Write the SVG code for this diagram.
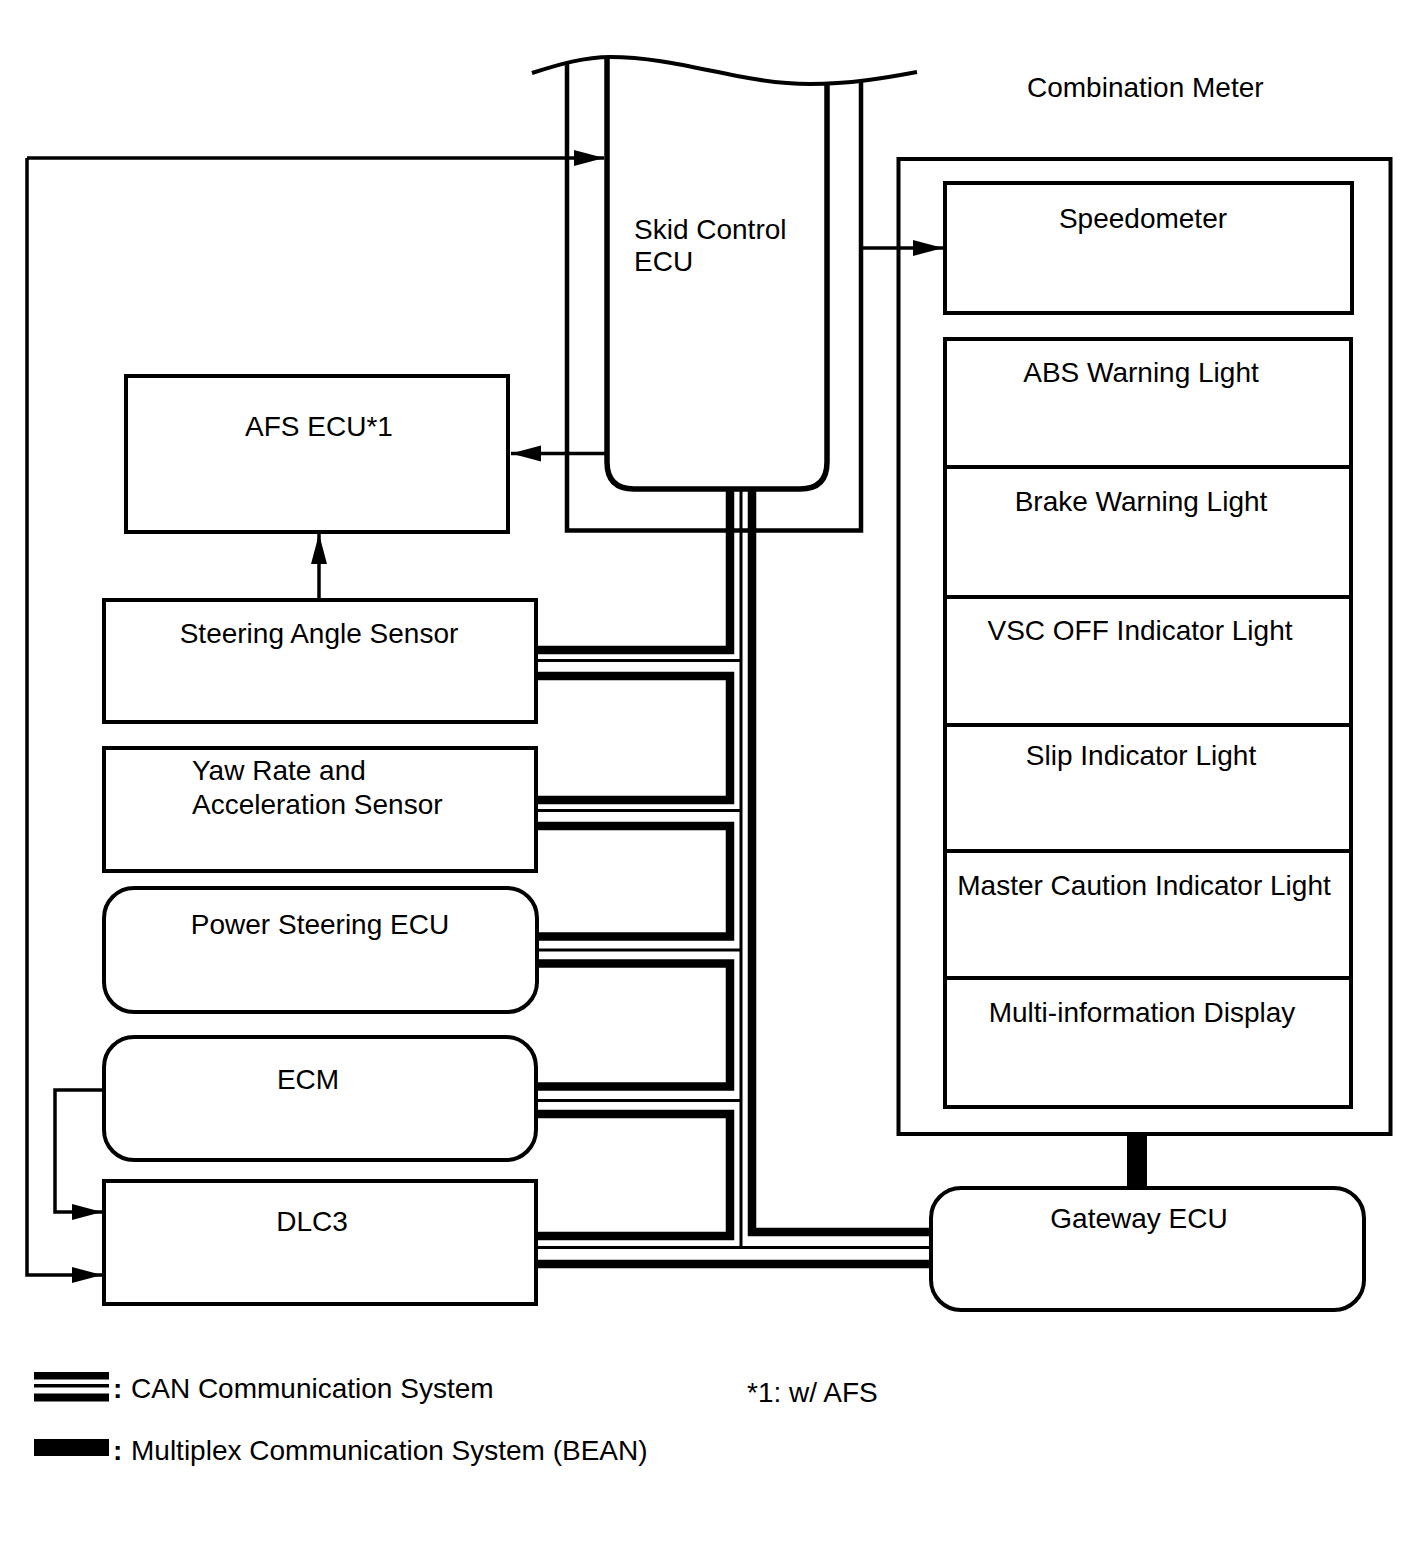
<svg xmlns="http://www.w3.org/2000/svg" width="1424" height="1562" viewBox="0 0 1424 1562">
<style>
text{font-family:"Liberation Sans",Arial,sans-serif;font-size:28px;fill:#000}
.c{text-anchor:middle}
.box{fill:#fff;stroke:#000;stroke-width:4}
.thin{fill:none;stroke:#000;stroke-width:3.5}
.wire{fill:none;stroke:#000;stroke-width:3.5}
.canT{fill:none;stroke:#000;stroke-width:8.5;stroke-linejoin:miter}
.canM{fill:none;stroke:#000;stroke-width:3}
</style>
<defs>
<marker id="ah" markerUnits="userSpaceOnUse" markerWidth="32" markerHeight="18" refX="30" refY="8" orient="auto">
<path d="M0,0 L30,8 L0,16 z" fill="#000"/>
</marker>
</defs>
<rect width="1424" height="1562" fill="#fff"/>

<g id="skid-control-ecu">
<path d="M532,73 C560,64 585,57 610,57 C680,57 740,84 810,84 C850,84 885,78 917,72" fill="none" stroke="#000" stroke-width="4"/>
<path d="M567,64 V530.5 H861 V80" fill="none" stroke="#000" stroke-width="4.5"/>
<path d="M607,57 V462 Q607,489 634,489 H800 Q827,489 827,462 V83" fill="none" stroke="#000" stroke-width="5.5"/>
<text x="634" y="239">Skid Control</text>
<text x="634" y="271">ECU</text>
</g>

<g id="combination-meter">
<rect x="898.5" y="159" width="492" height="975" fill="none" stroke="#000" stroke-width="4"/>
<text x="1027" y="97">Combination Meter</text>
</g>

<g id="speedometer">
<rect class="box" x="945" y="183" width="407" height="130"/>
<text class="c" x="1143" y="228">Speedometer</text>
</g>
<g id="abs-warning-light">
<rect class="box" x="945" y="339" width="406" height="128"/>
<text class="c" x="1141" y="382">ABS Warning Light</text>
</g>
<g id="brake-warning-light">
<rect class="box" x="945" y="467" width="406" height="130"/>
<text class="c" x="1141" y="511">Brake Warning Light</text>
</g>
<g id="vsc-off-indicator-light">
<rect class="box" x="945" y="597" width="406" height="128"/>
<text class="c" x="1140" y="640">VSC OFF Indicator Light</text>
</g>
<g id="slip-indicator-light">
<rect class="box" x="945" y="725" width="406" height="126"/>
<text class="c" x="1141" y="765">Slip Indicator Light</text>
</g>
<g id="master-caution-indicator-light">
<rect class="box" x="945" y="851" width="406" height="127"/>
<text class="c" x="1144" y="895">Master Caution Indicator Light</text>
</g>
<g id="multi-information-display">
<rect class="box" x="945" y="978" width="406" height="129"/>
<text class="c" x="1142" y="1022">Multi-information Display</text>
</g>

<g id="afs-ecu">
<rect class="box" x="126" y="376" width="382" height="156"/>
<text class="c" x="319" y="436">AFS ECU*1</text>
</g>
<g id="steering-angle-sensor">
<rect class="box" x="104" y="600" width="432" height="122"/>
<text class="c" x="319" y="643">Steering Angle Sensor</text>
</g>
<g id="yaw-rate-sensor">
<rect class="box" x="104" y="748" width="432" height="123"/>
<text x="192" y="780">Yaw Rate and</text>
<text x="192" y="814">Acceleration Sensor</text>
</g>
<g id="power-steering-ecu">
<rect class="box" x="104" y="888" width="433" height="124" rx="30"/>
<text class="c" x="320" y="934">Power Steering ECU</text>
</g>
<g id="ecm">
<rect class="box" x="104" y="1037" width="432" height="123" rx="30"/>
<text class="c" x="308" y="1089">ECM</text>
</g>
<g id="dlc3">
<rect class="box" x="104" y="1181" width="432" height="123"/>
<text class="c" x="312" y="1231">DLC3</text>
</g>
<g id="gateway-ecu">
<rect class="box" x="931" y="1188" width="433" height="122" rx="30"/>
<text class="c" x="1139" y="1228">Gateway ECU</text>
</g>

<g id="connectors">
<path class="wire" d="M27,158 H604" marker-end="url(#ah)"/>
<path class="wire" d="M27,158 V1275 H102" marker-end="url(#ah)"/>
<path class="wire" d="M862,248 H943" marker-end="url(#ah)"/>
<path class="wire" d="M607,453.5 H511" marker-end="url(#ah)"/>
<path class="wire" d="M319,600 V534" marker-end="url(#ah)"/>
<path class="wire" d="M104,1090 H55 V1212 H102" marker-end="url(#ah)"/>
<!-- CAN bus -->
<path class="canT" d="M730,491 V650 H536"/>
<path class="canT" d="M536,676 H730 V800 H536"/>
<path class="canT" d="M536,826 H730 V936.5 H536"/>
<path class="canT" d="M536,963.5 H730 V1086.5 H536"/>
<path class="canT" d="M536,1114 H730 V1236 H536"/>
<path class="canT" d="M752,491 V1232 H931"/>
<path class="canT" d="M536,1264 H931"/>
<path class="canM" d="M741,491 V1247.5 H931"/>
<path class="canM" d="M536,1247.5 H741"/>
<path class="canM" d="M536,660.5 H741"/>
<path class="canM" d="M536,810.5 H741"/>
<path class="canM" d="M536,950 H741"/>
<path class="canM" d="M536,1100.5 H741"/>
<!-- BEAN -->
<rect x="1127" y="1134" width="20" height="54" fill="#000"/>
</g>

<g id="legend">
<rect x="34" y="1372" width="75" height="7.5" fill="#000"/>
<rect x="34" y="1384" width="75" height="3.5" fill="#000"/>
<rect x="34" y="1393.5" width="75" height="8" fill="#000"/>
<text x="113" y="1398" font-weight="bold">:</text>
<text x="131" y="1398">CAN Communication System</text>
<rect x="34" y="1439" width="75" height="17" fill="#000"/>
<text x="113" y="1460" font-weight="bold">:</text>
<text x="131" y="1460">Multiplex Communication System (BEAN)</text>
<text x="747" y="1402">*1: w/ AFS</text>
</g>
</svg>
